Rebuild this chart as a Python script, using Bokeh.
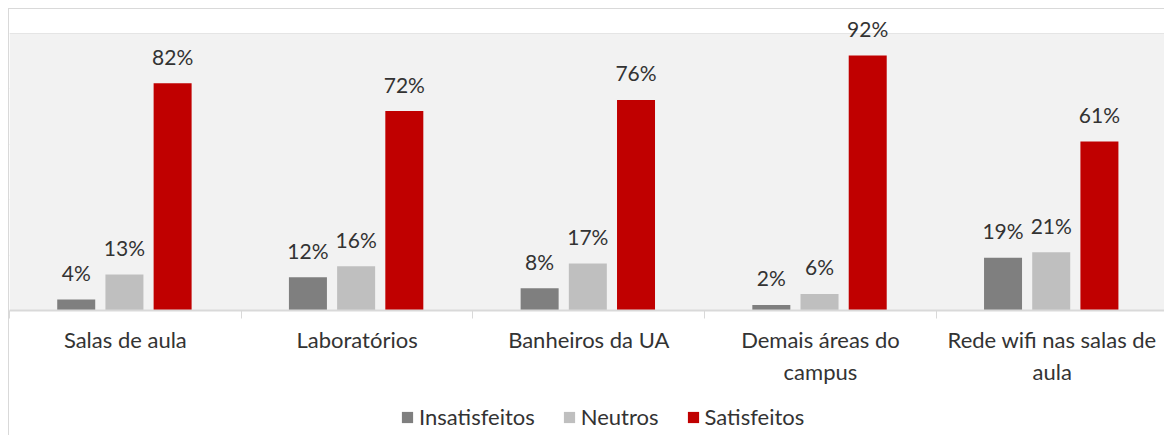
from bokeh.plotting import figure
from bokeh.layouts import column, row
from bokeh.models import (ColumnDataSource, FixedTicker, Legend, LegendItem, Range1d,
                          Spacer, BoxAnnotation)
from bokeh.core.properties import value
from bokeh.embed import file_html
from bokeh.resources import INLINE

categories = ["Salas de aula", "Laboratórios", "Banheiros da UA",
              "Demais áreas do\ncampus", "Rede wifi nas salas de\naula"]
insatisfeitos = [4, 12, 8, 2, 19]
neutros = [13, 16, 17, 6, 21]
satisfeitos = [82, 72, 76, 92, 61]
series_names = ["Insatisfeitos", "Neutros", "Satisfeitos"]
series_values = [insatisfeitos, neutros, satisfeitos]
colors = ["#7F7F7F", "#BFBFBF", "#C00000"]
offsets = [-0.212, -0.004, 0.204]

FONT = "Lato"
TXT = "#333333"
BORDER = "1px solid #D9D9D9"
centers = [i + 0.5 for i in range(len(categories))]
cat_px = 231.5
frame_w = 1155
plot_h = 278      # pixels for 0..100 %
frame_h = 302     # frame incl. white band above the plot area

p = figure(width=1156, height=378, output_backend="svg",
           toolbar_location=None, x_range=Range1d(0, frame_w / cat_px),
           y_range=Range1d(0, 100 * frame_h / plot_h), min_border_left=0,
           min_border_right=0, min_border_top=0, min_border_bottom=76)
p.background_fill_color = "white"
p.border_fill_color = "white"
p.outline_line_color = None
p.styles = {"border-left": BORDER, "border-top": BORDER}
p.add_layout(BoxAnnotation(bottom=0, top=100, fill_color="#F2F2F2", fill_alpha=1,
                           line_color=None, level="underlay"))

p.yaxis.visible = False
p.xgrid.visible = False
p.ygrid.ticker = FixedTicker(ticks=[0, 20, 40, 60, 80, 100])
p.ygrid.grid_line_color = "#D9D9D9"
p.ygrid.grid_line_width = 1

srcs = []
for name, vals, col, off in zip(series_names, series_values, colors, offsets):
    src = ColumnDataSource(dict(x=[c + off for c in centers], top=vals,
                                lab=[f"{v}%" for v in vals]))
    srcs.append(src)
    p.vbar(x="x", top="top", bottom=0, width=0.164, source=src,
           fill_color=col, line_color=None)
    p.text(x="x", y="top", text="lab", source=src, text_align="center",
           text_baseline="middle", y_offset=-27, text_font=value(FONT),
           text_font_size="21px", text_color=TXT)

ax = p.xaxis[0]
ax.ticker = FixedTicker(ticks=centers, minor_ticks=list(range(len(categories) + 1)))
ax.major_label_overrides = {c: lab for c, lab in zip(centers, categories)}
ax.major_tick_out = 0
ax.major_tick_in = 0
ax.minor_tick_in = 0
ax.minor_tick_out = 8
ax.minor_tick_line_color = "#D9D9D9"
ax.axis_line_color = "#D9D9D9"
ax.axis_line_width = 2
ax.major_label_standoff = 7
ax.major_label_text_font = FONT
ax.major_label_text_font_size = "22px"
ax.major_label_text_color = TXT

# legend strip below the chart (its bars fall far outside its view range)
pl = figure(width=1156, height=49, output_backend="svg", toolbar_location=None,
            x_range=Range1d(-10, -9), y_range=Range1d(-20, -10),
            min_border=0, outline_line_color=None)
pl.axis.visible = False
pl.grid.visible = False
pl.styles = {"border-left": BORDER}
items = []
for name, col, src in zip(series_names, colors, srcs):
    r = pl.vbar(x="x", top="top", bottom=0, width=0.1, source=src,
                fill_color=col, line_color=None)
    items.append(LegendItem(label=name, renderers=[r], index=0))
legend = Legend(items=items, orientation="horizontal", location=(391, 5),
                label_text_font=FONT, label_text_font_size="22px",
                label_text_color=TXT, glyph_width=14, glyph_height=14,
                label_standoff=5, spacing=27, border_line_color=None,
                background_fill_alpha=0, padding=0, margin=0)
pl.add_layout(legend, "center")

layout = column(Spacer(height=8), row(Spacer(width=8), column(p, pl, spacing=0)),
                spacing=0)
open("out.html", "w").write(file_html(layout, INLINE))
